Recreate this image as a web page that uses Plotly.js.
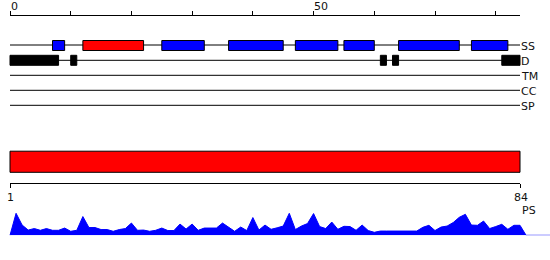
<!DOCTYPE html>
<html><head><meta charset="utf-8">
<script src="https://cdn.plot.ly/plotly-3.0.1.min.js"></script>
<style>html,body{margin:0;padding:0;background:#fff}#chart{width:550px;height:260px}</style>
</head><body><div id="chart"></div>
<script>
// ---- data ----
const seqLength = 84;
const trackNames = ['SS', 'D', 'TM', 'CC', 'SP'];
const helixStart = [7, 25, 36, 47, 55, 64, 76];
const helixEnd   = [9, 32, 45, 54, 60, 74, 82];
const strandStart = [12];
const strandEnd   = [22];
const disorderStart = [0, 10, 61, 63, 81];
const disorderEnd   = [8, 11, 62, 64, 84];
const topTickVals = [0, 10, 20, 30, 40, 50, 60, 70, 80];
const topTickLabels = [0, 50];
const bottomTickVals = [1, 84];
const psLabel = 'PS';
const psScores = [
  0.88, 0.41, 0.21, 0.27, 0.20, 0.27, 0.20, 0.20, 0.29, 0.16,
  0.20, 0.75, 0.31, 0.31, 0.23, 0.23, 0.16, 0.23, 0.27, 0.49,
  0.20, 0.21, 0.16, 0.20, 0.29, 0.19, 0.19, 0.45, 0.25, 0.45,
  0.20, 0.29, 0.29, 0.29, 0.49, 0.32, 0.16, 0.33, 0.19, 0.71,
  0.21, 0.41, 0.24, 0.30, 0.37, 0.88, 0.23, 0.37, 0.47, 0.87,
  0.35, 0.27, 0.53, 0.24, 0.36, 0.35, 0.20, 0.41, 0.19, 0.12,
  0.17, 0.17, 0.17, 0.17, 0.17, 0.16, 0.17, 0.32, 0.40, 0.19,
  0.33, 0.37, 0.51, 0.72, 0.84, 0.41, 0.40, 0.57, 0.27, 0.35,
  0.44, 0.24, 0.40, 0.40
];

// ---- layout geometry (pixels) ----
const W = 550, H = 260;
const left = 10, right = 520;
const pxPerRes = (right - left) / seqLength;
const trackY = [45, 60.3, 75.3, 90.3, 105.3];
const boxHalf = 5;
const topAxisY = 15.8, bottomAxisY = 182.8;
const barY0 = 151.2, barY1 = 172.3;
const psBase = 235.3, psFull = 25;
const py = p => (H - p) / H;
const font = 'DejaVu Sans, sans-serif';

const traces = [];
trackNames.forEach((n, i) => {
  traces.push({x: [0, seqLength], y: [trackY[i], trackY[i]], xaxis: 'x', yaxis: 'y',
    mode: 'lines', line: {color: '#000', width: 1}, hoverinfo: 'skip'});
});
const psX = [0], psY = [0];
psScores.forEach((v, i) => { psX.push(i + 1); psY.push(v); });
psX.push(seqLength + 1); psY.push(0);
traces.push({x: psX, y: psY, xaxis: 'x', yaxis: 'y2', mode: 'lines', fill: 'tozeroy',
  fillcolor: '#0000ff', line: {color: '#0000ff', width: 1}, hoverinfo: 'skip'});
traces.push({x: [], y: [], xaxis: 'x2', yaxis: 'y3'});
traces.push({x: [], y: [], xaxis: 'x3', yaxis: 'y4'});

const shapes = [];
function box(x0, x1, yc, h, fill) {
  shapes.push({type: 'rect', xref: 'x', yref: 'y', x0: x0, x1: x1, y0: yc - h, y1: yc + h,
    fillcolor: fill, line: {color: '#000', width: 1}});
}
helixStart.forEach((s, i) => box(s, helixEnd[i], trackY[0] + 0.5, boxHalf, '#0000ff'));
strandStart.forEach((s, i) => box(s, strandEnd[i], trackY[0] + 0.5, boxHalf, '#ff0000'));
disorderStart.forEach((s, i) => box(s, disorderEnd[i], trackY[1], boxHalf, '#000000'));
shapes.push({type: 'rect', xref: 'x', yref: 'y', x0: 0, x1: seqLength, y0: barY0, y1: barY1,
  fillcolor: '#ff0000', line: {color: '#000', width: 1}});
shapes.push({type: 'line', xref: 'x', yref: 'y2', x0: seqLength + 1, x1: (W - left) / pxPerRes,
  y0: 0, y1: 0, line: {color: '#0000ff', width: 1}});

const annotations = [];
trackNames.forEach((n, i) => {
  annotations.push({text: n, xref: 'x', yref: 'y', x: seqLength, y: trackY[i] + 1,
    xanchor: 'left', yanchor: 'middle', xshift: -1, showarrow: false,
    font: {family: font, size: 11, color: '#111'}});
});
topTickLabels.forEach(v => annotations.push({text: String(v), xref: 'x2', yref: 'paper', x: v, y: py(6),
  xanchor: 'left', yanchor: 'middle', xshift: -1.5, showarrow: false,
  font: {family: font, size: 11, color: '#111'}}));
bottomTickVals.forEach(v => annotations.push({text: String(v), xref: 'x3', yref: 'paper', x: v, y: py(197),
  xanchor: 'center', yanchor: 'middle', xshift: 0.5, showarrow: false,
  font: {family: font, size: 11, color: '#111'}}));
annotations.push({text: psLabel, xref: 'x', yref: 'paper', x: seqLength, y: py(210.5),
  xanchor: 'left', yanchor: 'middle', xshift: 0, showarrow: false,
  font: {family: font, size: 11, color: '#111'}});

const axisCommon = {showgrid: false, zeroline: false, fixedrange: true};
const layout = {
  width: W, height: H, margin: {l: 0, r: 0, t: 0, b: 0, pad: 0},
  paper_bgcolor: '#fff', plot_bgcolor: 'rgba(0,0,0,0)', showlegend: false,
  font: {family: font, size: 11, color: '#111'},
  xaxis: Object.assign({}, axisCommon, {domain: [0, 1], range: [-left / pxPerRes, (W - left) / pxPerRes], visible: false}),
  yaxis: Object.assign({}, axisCommon, {domain: [0, 1], range: [H, 0], visible: false}),
  yaxis2: Object.assign({}, axisCommon, {domain: [py(psBase), py(psBase - psFull)], range: [0, 1], anchor: 'x', visible: false}),
  xaxis2: Object.assign({}, axisCommon, {domain: [left / W, right / W], range: [0, seqLength], anchor: 'y3', side: 'top',
    showline: true, linecolor: '#000', linewidth: 1, ticks: 'outside', ticklen: 4, tickwidth: 1, tickcolor: '#000',
    tickmode: 'array', tickvals: topTickVals, showticklabels: false}),
  yaxis3: Object.assign({}, axisCommon, {domain: [py(topAxisY) - 0.02, py(topAxisY)], anchor: 'x2', visible: false}),
  xaxis3: Object.assign({}, axisCommon, {domain: [left / W, right / W], range: [1, seqLength], anchor: 'y4', side: 'bottom',
    showline: true, linecolor: '#000', linewidth: 1, ticks: 'outside', ticklen: 4, tickwidth: 1, tickcolor: '#000',
    tickmode: 'array', tickvals: bottomTickVals, showticklabels: false}),
  yaxis4: Object.assign({}, axisCommon, {domain: [py(bottomAxisY), py(bottomAxisY) + 0.02], anchor: 'x3', visible: false}),
  shapes: shapes, annotations: annotations
};
Plotly.newPlot('chart', traces, layout, {staticPlot: true, displayModeBar: false});
</script></body></html>
